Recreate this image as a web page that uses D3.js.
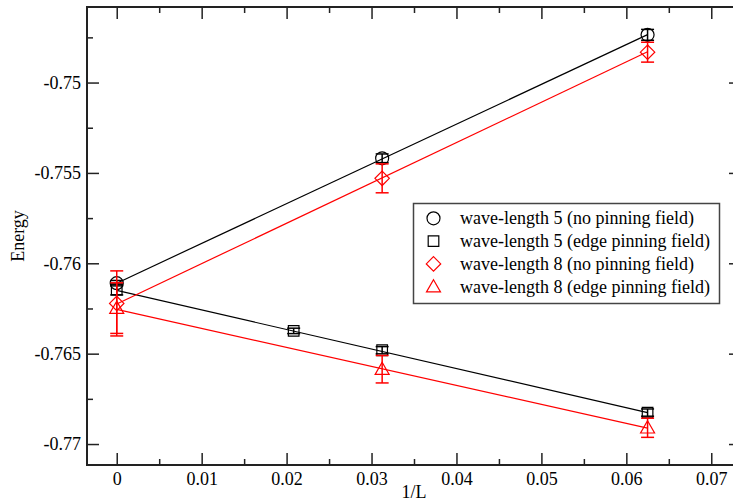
<!DOCTYPE html>
<html>
<head>
<meta charset="utf-8">
<script src="https://cdn.jsdelivr.net/npm/d3@7"></script>
<style>
  html, body { margin: 0; padding: 0; background: #fff; }
  svg { display: block; }
  text { font-family: "Liberation Serif", "Times New Roman", serif; }
</style>
</head>
<body>
<svg id="chart" width="733" height="503"></svg>
<script>
// Ground-state energy extrapolation in 1/L
const xTicks = [0, 0.01, 0.02, 0.03, 0.04, 0.05, 0.06, 0.07];
const xTickLabels = ["0", "0.01", "0.02", "0.03", "0.04", "0.05", "0.06", "0.07"];
const yTicks = [-0.75, -0.755, -0.76, -0.765, -0.77];
const yTickLabels = ["-0.75", "-0.755", "-0.76", "-0.765", "-0.77"];

const seriesNames = [
  "wave-length 5 (no pinning field)",
  "wave-length 5 (edge pinning field)",
  "wave-length 8 (no pinning field)",
  "wave-length 8 (edge pinning field)"
];
const seriesColors = ["#000000", "#000000", "#ff0000", "#ff0000"];
const seriesSymbols = ["circle", "square", "diamond", "triangle"];

const wl5NoPinX = [0, 1 / 32, 1 / 16];
const wl5NoPinY = [-0.76110, -0.75419, -0.74736];
const wl5NoPinErr = [0.00015, 0.00024, 0.0003];

const wl5EdgeX = [0, 1 / 48, 1 / 32, 1 / 16];
const wl5EdgeY = [-0.76145, -0.76374, -0.76481, -0.76826];
const wl5EdgeErr = [0.0003, 0.00015, 0.0002, 0.0002];

const wl8NoPinX = [0, 1 / 32, 1 / 16];
const wl8NoPinY = [-0.76222, -0.75530, -0.74832];
const wl8NoPinErr = [0.0018, 0.0008, 0.00055];

const wl8EdgeX = [0, 1 / 32, 1 / 16];
const wl8EdgeY = [-0.76248, -0.76586, -0.76910];
const wl8EdgeErr = [0.0014, 0.00076, 0.00053];

// Linear fits: energy at 1/L = 0 and at 1/L = 1/16
const fitX = [0, 1 / 16];
const fitWl5NoPin = [-0.76110, -0.74735];
const fitWl5Edge = [-0.76150, -0.76826];
const fitWl8NoPin = [-0.76225, -0.74830];
const fitWl8Edge = [-0.76255, -0.76912];

const series = [
  { x: wl5NoPinX, y: wl5NoPinY, e: wl5NoPinErr, fit: fitWl5NoPin },
  { x: wl5EdgeX, y: wl5EdgeY, e: wl5EdgeErr, fit: fitWl5Edge },
  { x: wl8NoPinX, y: wl8NoPinY, e: wl8NoPinErr, fit: fitWl8NoPin },
  { x: wl8EdgeX, y: wl8EdgeY, e: wl8EdgeErr, fit: fitWl8Edge }
].map((s, i) => ({
  ...s,
  name: seriesNames[i],
  color: seriesColors[i],
  symbol: seriesSymbols[i]
}));

const svg = d3.select("#chart");
const plotLeft = 87, plotRight = 741, plotTop = 7, plotBottom = 465;

const x = d3.scaleLinear().domain([-0.0035, 0.0735]).range([plotLeft, plotRight]);
const y = d3.scaleLinear().domain([-0.77116, -0.74582]).range([plotBottom, plotTop]);

const axisColor = "#222";
const fontStack = '"Liberation Serif", "Times New Roman", serif';
const majorLen = 12, minorLen = 6;
const isMajor = (v, ticks) => ticks.some(t => Math.abs(t - v) < 1e-9);
const xMinor = d3.range(0, 0.0736, 0.005).filter(v => !isMajor(v, xTicks));
const yMinor = d3.range(-0.7725, -0.745, 0.0025)
  .filter(v => v >= -0.77116 && v <= -0.74582 && !isMajor(v, yTicks));

// Axes built from d3 axis generators, ticks pointing inward
function addAxis(gen, transform) {
  const g = svg.append("g").attr("transform", transform).call(gen)
    .attr("font-family", fontStack);
  g.select(".domain").remove();
  g.selectAll("line").attr("stroke", axisColor).attr("stroke-width", 1.5);
  return g;
}

// bottom
const gxb = addAxis(d3.axisBottom(x).tickValues(xTicks).tickSize(-majorLen).tickPadding(7)
  .tickFormat((d, i) => xTickLabels[i]), `translate(0,${plotBottom})`);
gxb.attr("font-size", 18);
gxb.selectAll("text").attr("fill", "#000");
addAxis(d3.axisBottom(x).tickValues(xMinor).tickSize(-minorLen).tickFormat(""), `translate(0,${plotBottom})`);
// top
addAxis(d3.axisTop(x).tickValues(xTicks).tickSize(-majorLen).tickFormat(""), `translate(0,${plotTop})`);
addAxis(d3.axisTop(x).tickValues(xMinor).tickSize(-minorLen).tickFormat(""), `translate(0,${plotTop})`);
// left
const gyl = addAxis(d3.axisLeft(y).tickValues(yTicks).tickSize(-majorLen).tickPadding(6)
  .tickFormat((d, i) => yTickLabels[i]), `translate(${plotLeft},0)`);
gyl.attr("font-size", 18);
gyl.selectAll("text").attr("fill", "#000");
addAxis(d3.axisLeft(y).tickValues(yMinor).tickSize(-minorLen).tickFormat(""), `translate(${plotLeft},0)`);
// right
addAxis(d3.axisRight(y).tickValues(yTicks).tickSize(-majorLen).tickFormat(""), `translate(${plotRight},0)`);
addAxis(d3.axisRight(y).tickValues(yMinor).tickSize(-minorLen).tickFormat(""), `translate(${plotRight},0)`);

// frame
svg.append("rect")
  .attr("x", plotLeft).attr("y", plotTop)
  .attr("width", plotRight - plotLeft).attr("height", plotBottom - plotTop)
  .attr("fill", "none").attr("stroke", axisColor).attr("stroke-width", 2);

// axis titles
svg.append("text")
  .attr("x", (plotLeft + plotRight) / 2).attr("y", 498)
  .attr("text-anchor", "middle").attr("font-size", 18)
  .text("1/L");
svg.append("text")
  .attr("transform", `translate(24,${(plotTop + plotBottom) / 2}) rotate(-90)`)
  .attr("text-anchor", "middle").attr("font-size", 18)
  .text("Energy");

// symbol drawing
function symbolPath(type, cx, cy) {
  if (type === "circle") {
    const r = 6.5;
    return `M${cx - r},${cy}A${r},${r} 0 1,0 ${cx + r},${cy}A${r},${r} 0 1,0 ${cx - r},${cy}Z`;
  }
  if (type === "square") {
    const h = 5.3;
    return `M${cx - h},${cy - h}H${cx + h}V${cy + h}H${cx - h}Z`;
  }
  if (type === "diamond") {
    const h = 7.2;
    return `M${cx},${cy - h}L${cx + h},${cy}L${cx},${cy + h}L${cx - h},${cy}Z`;
  }
  const h = 7;
  return `M${cx},${cy - h}L${cx + h},${cy + h * 0.75}L${cx - h},${cy + h * 0.75}Z`;
}

const line = d3.line().x(d => x(d[0])).y(d => y(d[1]));

// fit lines
series.forEach(s => {
  svg.append("path")
    .attr("d", line(fitX.map((v, i) => [v, s.fit[i]])))
    .attr("fill", "none").attr("stroke", s.color).attr("stroke-width", 1.2);
});

// points with error bars
const capW = 6.5;
series.forEach(s => {
  const g = svg.append("g");
  s.x.forEach((xv, i) => {
    const cx = x(xv), y0 = y(s.y[i] - s.e[i]), y1 = y(s.y[i] + s.e[i]);
    g.append("line").attr("x1", cx).attr("x2", cx).attr("y1", y0).attr("y2", y1)
      .attr("stroke", s.color).attr("stroke-width", 1.5);
    [y0, y1].forEach(yy => {
      g.append("line").attr("x1", cx - capW).attr("x2", cx + capW).attr("y1", yy).attr("y2", yy)
        .attr("stroke", s.color).attr("stroke-width", 1.5);
    });
    g.append("path").attr("d", symbolPath(s.symbol, cx, y(s.y[i])))
      .attr("fill", "none").attr("stroke", s.color).attr("stroke-width", 1.2);
  });
});

// legend
const lg = svg.append("g");
lg.append("rect")
  .attr("x", 413.5).attr("y", 203.5).attr("width", 306).attr("height", 100)
  .attr("fill", "#fff").attr("stroke", "#444").attr("stroke-width", 1.5);
series.forEach((s, i) => {
  const cy = 218.3 + i * 22.8;
  lg.append("path").attr("d", symbolPath(s.symbol, 433.5, cy))
    .attr("fill", "none").attr("stroke", s.color).attr("stroke-width", 1.2);
  lg.append("text").attr("x", 460).attr("y", cy + 6)
    .attr("font-size", 18).attr("fill", "#000").text(s.name);
});
</script>
</body>
</html>
